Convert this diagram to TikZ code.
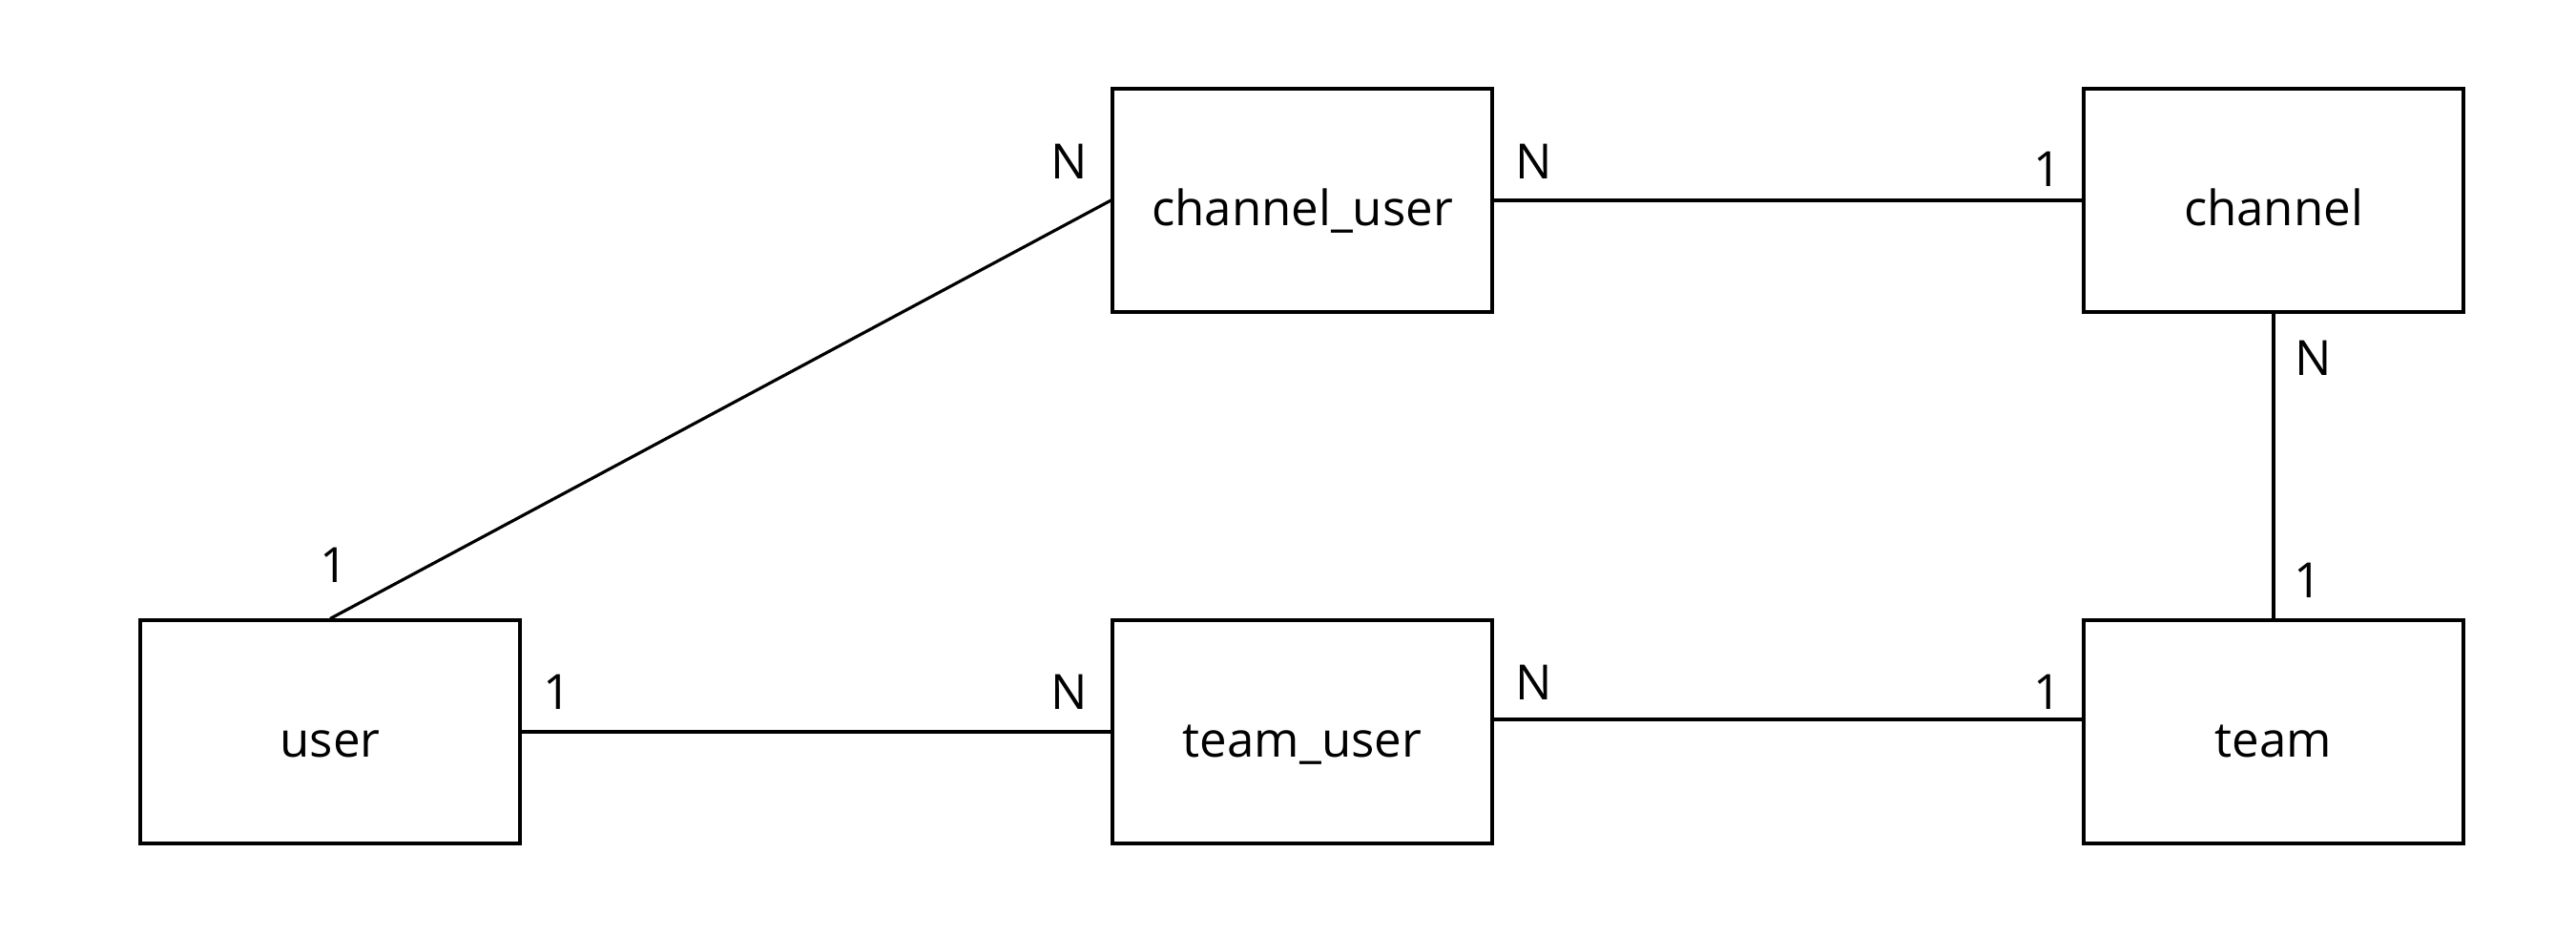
\documentclass[tikz,border=0pt]{standalone}
\usepackage{fontspec}
\setmainfont{Open Sans}
\usepackage{tikz}

\begin{document}
\begin{tikzpicture}[line width=0.9pt,
   entity/.style={rectangle,draw,minimum width=3.98cm,minimum height=2.34cm,inner sep=0pt,text height=0.52cm,text depth=0cm,font=\fontsize{14.5}{17}\selectfont},
   card/.style={inner sep=0pt,font=\fontsize{14.5}{17}\selectfont}]
   \useasboundingbox (0,0) rectangle (27,9.8);
   \node (channeluser) at (13.65,7.70) [entity] {channel\_user};
   \node (channel)     at (23.83,7.70) [entity] {channel};
   \node (user)        at (3.46,2.13)  [entity] {user};
   \node (teamuser)    at (13.65,2.13) [entity] {team\_user};
   \node (team)        at (23.83,2.13) [entity] {team};
   \draw (user.north) -- (channeluser.west);
   \draw (channeluser.east) -- (channel.west);
   \draw (channel.south) -- (team.north);
   \draw (user.east) -- (teamuser.west);
   \draw ([yshift=1.3mm]teamuser.east) -- ([yshift=1.3mm]team.west);
   \node (card1)  at (11.21,8.11) [card] {N};
   \node (card2)  at (3.50,3.88)  [card] {1};
   \node (card3)  at (16.08,8.11) [card] {N};
   \node (card4)  at (21.46,8.03) [card] {1};
   \node (card5)  at (24.25,6.05) [card] {N};
   \node (card6)  at (24.19,3.72) [card] {1};
   \node (card7)  at (5.84,2.55)  [card] {1};
   \node (card8)  at (11.21,2.55) [card] {N};
   \node (card9)  at (16.08,2.65) [card] {N};
   \node (card10) at (21.46,2.55) [card] {1};
  \end{tikzpicture}
\end{document}
